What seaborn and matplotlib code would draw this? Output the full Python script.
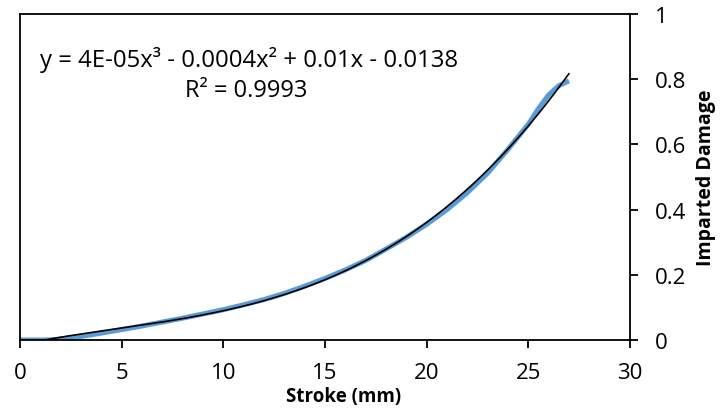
import numpy as np
import pandas as pd
import matplotlib
matplotlib.use("Agg")
import matplotlib.pyplot as plt
import seaborn as sns

# Measured imparted damage versus stroke
stroke_mm = [0, 1, 1.5, 2, 3, 4, 5, 6, 7, 8, 9, 10, 11, 12, 13, 14, 15, 16,
             17, 18, 19, 20, 21, 22, 23, 24, 25, 25.5, 26, 26.5, 27]
damage = [0, 0, 0, 0.003, 0.011, 0.021, 0.032, 0.043, 0.055, 0.067, 0.080,
          0.093, 0.108, 0.124, 0.143, 0.165, 0.189, 0.215, 0.244, 0.279,
          0.315, 0.355, 0.400, 0.452, 0.512, 0.585, 0.662, 0.710, 0.752,
          0.780, 0.795]

x_ticks = [0, 5, 10, 15, 20, 25, 30]
y_ticks = [0, 0.2, 0.4, 0.6, 0.8, 1]
y_tick_labels = ["0", "0.2", "0.4", "0.6", "0.8", "1"]

equation_text = "y = 4E-05x³ - 0.0004x² + 0.01x - 0.0138"
r2_text = "R² = 0.9993"

sns.set_theme(style="ticks")
plt.rcParams["font.family"] = ["Open Sans", "DejaVu Sans"]
plt.rcParams["text.color"] = "black"
plt.rcParams["axes.labelcolor"] = "black"

df = pd.DataFrame({"Stroke (mm)": stroke_mm, "Imparted Damage": damage})

# Cubic trendline across the measured stroke range
coef = np.polyfit(stroke_mm, damage, 3)
trend_x = np.linspace(min(stroke_mm), max(stroke_mm), 300)
trend = pd.DataFrame({"x": trend_x, "y": np.polyval(coef, trend_x)})

fig = plt.figure(figsize=(7.21, 4.14), dpi=100)
ax = fig.add_axes([20 / 721, 73 / 414, 610 / 721, 326 / 414])

sns.lineplot(data=df, x="Stroke (mm)", y="Imparted Damage", ax=ax,
             color="#5B9BD5", linewidth=3.6, solid_capstyle="butt", zorder=2)
sns.lineplot(data=trend, x="x", y="y", ax=ax, color="black",
             linewidth=1.2, zorder=3)

ax.set_xlim(0, 30)
ax.set_ylim(0, 1)
ax.set_xticks(x_ticks)
ax.set_xticklabels([str(t) for t in x_ticks])
ax.set_yticks(y_ticks)
ax.set_yticklabels(y_tick_labels)

ax.yaxis.tick_right()
ax.yaxis.set_label_position("right")
for side in ["left", "right", "top", "bottom"]:
    ax.spines[side].set_visible(True)
    ax.spines[side].set_color("black")
    ax.spines[side].set_linewidth(1.3)

ax.tick_params(axis="both", direction="out", length=6, width=1.3,
               color="black", labelsize=16, labelcolor="black")
ax.tick_params(axis="x", pad=10)
ax.tick_params(axis="y", pad=12)

ax.set_xlabel("Stroke (mm)", fontsize=13.5, fontweight="bold")
ax.set_ylabel("Imparted Damage", fontsize=14, fontweight="bold")
ax.xaxis.set_label_coords(0.53, -0.142)
ax.yaxis.set_label_coords(1.108, 0.5)

ax.text(0.98, 0.840, equation_text, fontsize=17.2, ha="left", va="baseline")
ax.text(11.1, 0.748, r2_text, fontsize=17, ha="center", va="baseline")

fig.savefig("out.png", dpi=100)
